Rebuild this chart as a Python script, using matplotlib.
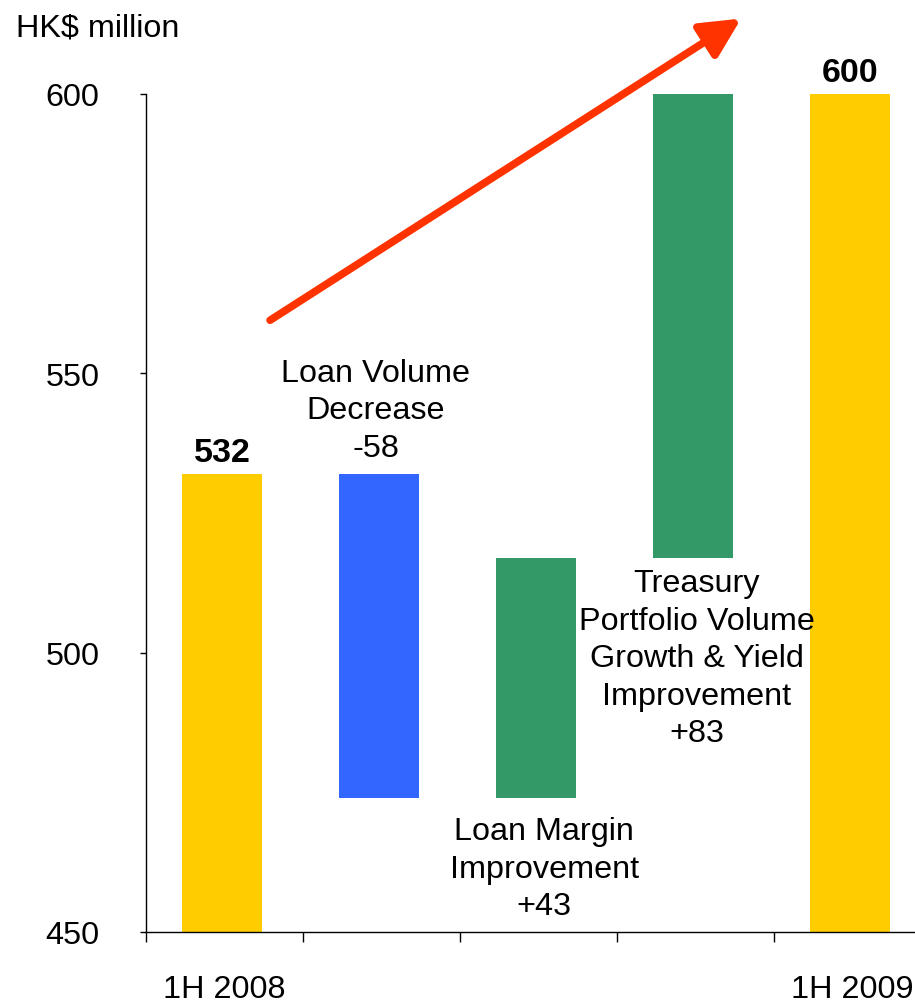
import matplotlib
matplotlib.use("Agg")
import matplotlib.pyplot as plt
import numpy as np

plt.rcParams["font.family"] = ["Liberation Sans", "DejaVu Sans"]

# --- Werte (HK$ Mio.) ---
categories = ["1H 2008", "Loan Volume\nDecrease", "Loan Margin\nImprovement",
              "Treasury\nPortfolio Volume\nGrowth & Yield\nImprovement", "1H 2009"]
tick_labels = ["1H 2008", "", "", "", "1H 2009"]
start_value = 532
changes = [-58, 43, 83]
end_value = 600
colors = ["#FFCC00", "#3366FF", "#339966", "#339966", "#FFCC00"]
y_ticks = [450, 500, 550, 600]

# Trendpfeil (Kategorie-Index, Wert)
arrow_from = (0.29, 559.5)
arrow_to = (3.29, 613.5)

FS = 23.3      # Standardschrift
LS = 1.33      # Zeilenabstand der Mehrzeiler

# Wasserfall: Sockel + Höhe je Balken
levels = np.concatenate([[start_value], start_value + np.cumsum(changes)])
bottoms = [450] + [min(levels[i], levels[i + 1]) for i in range(len(changes))] + [450]
heights = [start_value - 450] + [abs(c) for c in changes] + [end_value - 450]
x = np.arange(len(categories))

fig = plt.figure(figsize=(9.15, 10.03), dpi=100)
ax = fig.add_axes([0.1596, 0.0698, 0.858, 0.8355])
ax.bar(x - 0.015, heights, bottom=bottoms, width=0.51, color=colors, zorder=2)

ax.set_ylim(450, 600)
ax.set_xlim(-0.5, len(categories) - 0.5)
ax.set_yticks(y_ticks)
ax.set_xticks(x)
ax.set_xticklabels(tick_labels)
ax.set_xticks(np.arange(len(categories) + 1) - 0.5, minor=True)
ax.tick_params(axis="y", labelsize=FS, length=4.5, width=1, pad=29, direction="out")
ax.tick_params(axis="x", which="major", labelsize=FS, length=0, pad=30)
ax.tick_params(axis="x", which="minor", length=7, width=1, direction="out")
for s in ("top", "right"):
    ax.spines[s].set_visible(False)
for s in ("left", "bottom"):
    ax.spines[s].set_linewidth(1)

fig.text(0.017, 0.972, "HK$ million", fontsize=FS, ha="left", va="center")

# Endwerte fett über den gelben Balken
ax.annotate(f"{start_value}", (x[0] - 0.015, start_value), xytext=(0, 4),
            textcoords="offset points", ha="center", va="bottom", fontsize=24.5, fontweight="bold")
ax.annotate(f"{end_value}", (x[-1] - 0.015, end_value), xytext=(0, 4),
            textcoords="offset points", ha="center", va="bottom", fontsize=24.5, fontweight="bold")

# Beschriftung der Veränderungen
ax.annotate(f"{categories[1]}\n{changes[0]:+d}".replace("+", ""), (x[1], levels[0]),
            xytext=(-4, 8), textcoords="offset points", ha="center", va="bottom",
            fontsize=FS, linespacing=LS, annotation_clip=False)
ax.annotate(f"{categories[2]}\n{changes[1]:+d}", (x[2], levels[1]),
            xytext=(4, -13), textcoords="offset points", ha="center", va="top",
            fontsize=FS, linespacing=LS, annotation_clip=False)
ax.annotate(f"{categories[3]}\n{changes[2]:+d}", (x[3], levels[2]),
            xytext=(1, -7.5), textcoords="offset points", ha="center", va="top",
            fontsize=FS, linespacing=LS, annotation_clip=False, zorder=3)

ax.annotate("", xy=arrow_to, xytext=arrow_from,
            arrowprops=dict(arrowstyle="-|>,head_length=1.2,head_width=0.6", lw=5.5,
                            color="#FF3300", mutation_scale=20, shrinkA=0, shrinkB=0),
            annotation_clip=False)

fig.savefig("out.png", dpi=100, facecolor="white")
